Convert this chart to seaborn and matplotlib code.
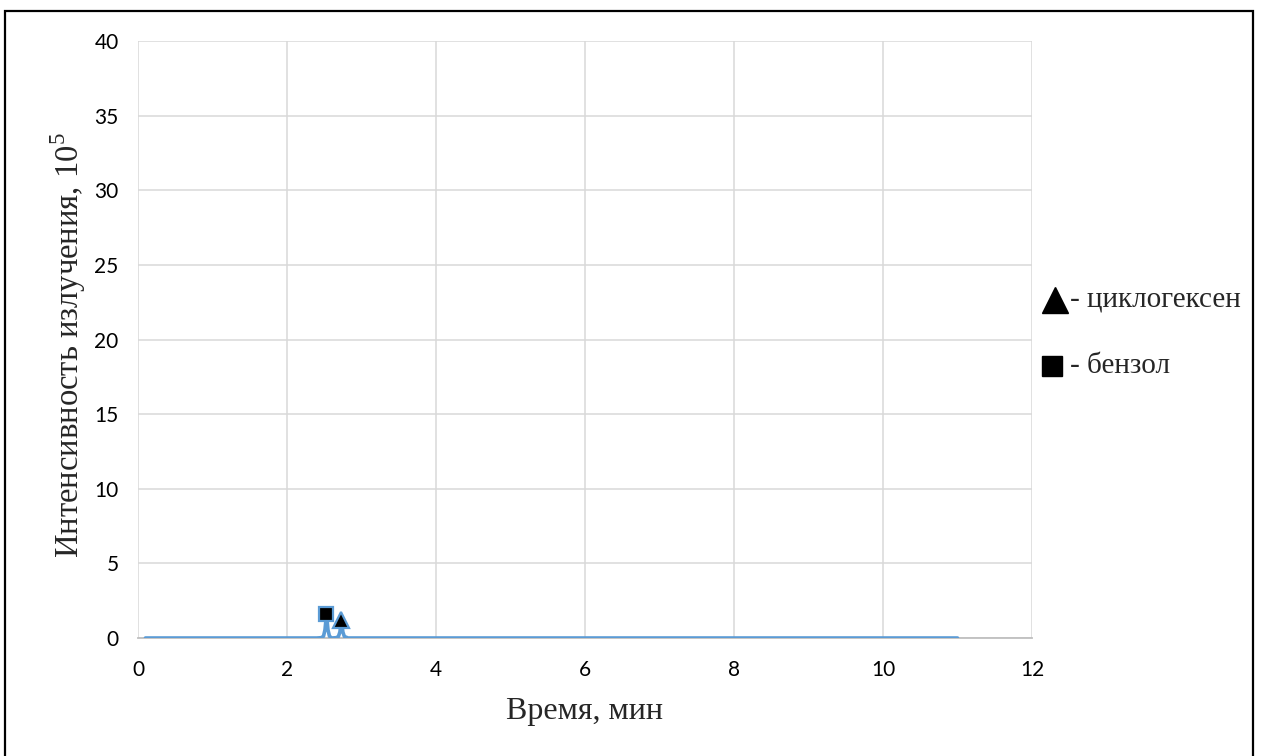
import matplotlib
matplotlib.use("Agg")
import matplotlib.pyplot as plt
import seaborn as sns
import pandas as pd
from matplotlib.patches import Rectangle

# Chromatogram trace: retention time (min) and emission intensity (x10^5)
time_min = [0.1, 2.40, 2.46, 2.49, 2.51, 2.53, 2.55, 2.57, 2.60, 2.66,
            2.69, 2.71, 2.73, 2.75, 2.77, 2.82, 11.0]
intensity = [0.0, 0.0, 0.02, 0.12, 0.55, 1.6, 0.55, 0.12, 0.0, 0.02,
             0.1, 0.4, 1.2, 0.4, 0.1, 0.0, 0.0]

# Identified peaks
peak_names = ["бензол", "циклогексен"]
peak_time = [2.53, 2.73]
peak_height = [1.6, 1.2]
peak_marker = ["s", "^"]

x_ticks = [0, 2, 4, 6, 8, 10, 12]
y_ticks = [0, 5, 10, 15, 20, 25, 30, 35, 40]

sns.set_theme(style="white")
plt.rcParams["font.family"] = ["Lato", "DejaVu Sans"]
serif = ["Liberation Serif", "DejaVu Serif"]

W, H = 1265, 756
fig = plt.figure(figsize=(W / 100, H / 100), dpi=100)
ax = fig.add_axes([138 / W, 1 - 638 / H, (1032 - 138) / W, (638 - 41) / H])

blue = "#5B9BD5"
df = pd.DataFrame({"t": time_min, "I": intensity})
sns.lineplot(data=df, x="t", y="I", ax=ax, color=blue, linewidth=2.6,
             sort=False, zorder=3)

for name, t, h, m in zip(peak_names, peak_time, peak_height, peak_marker):
    ax.plot([t], [h], marker=m, markersize=10.5 if m == "s" else 11,
            markerfacecolor="black", markeredgecolor=blue,
            markeredgewidth=1.6, linestyle="none", zorder=4)

ax.set_xlim(0, 12)
ax.set_ylim(0, 40)
ax.set_xticks(x_ticks)
ax.set_yticks(y_ticks)
ax.grid(True, color="#d9d9d9", linewidth=1.1)
for s in ["top", "right", "left"]:
    ax.spines[s].set_visible(False)
ax.spines["bottom"].set_color("#bfbfbf")
ax.spines["bottom"].set_linewidth(1.3)
ax.tick_params(axis="both", length=0, labelsize=15, colors="black")
ax.tick_params(axis="y", pad=14)
ax.tick_params(axis="x", pad=16)
ax.set_xlabel("")
ax.set_ylabel("")

fig.text(585 / W, 1 - 711 / H, "Время, мин", family=serif, fontsize=23,
         ha="center", va="center")
fig.text(68 / W, 1 - 345 / H, "Интенсивность излучения, 10$^{\\mathregular{5}}$",
         family=serif, fontsize=23.5, rotation=90, ha="center", va="center")

# Peak key on the right
fig.lines.append(plt.Line2D([1055 / W], [1 - 300 / H], marker="^", markersize=19,
                            color="black", linestyle="none",
                            transform=fig.transFigure))
fig.lines.append(plt.Line2D([1052 / W], [1 - 366 / H], marker="s", markersize=15,
                            color="black", linestyle="none",
                            transform=fig.transFigure))
fig.text(1070 / W, 1 - 300 / H, "- " + peak_names[1], family=serif, fontsize=21,
         ha="left", va="center")
fig.text(1070 / W, 1 - 366 / H, "- " + peak_names[0], family=serif, fontsize=21,
         ha="left", va="center")

# Frame around the figure
fig.patches.append(Rectangle((5 / W, -0.02), (1253 - 5) / W, 1 - 11 / H + 0.02,
                             transform=fig.transFigure, fill=False,
                             edgecolor="black", linewidth=1.6))

fig.savefig("out.png", dpi=100)
